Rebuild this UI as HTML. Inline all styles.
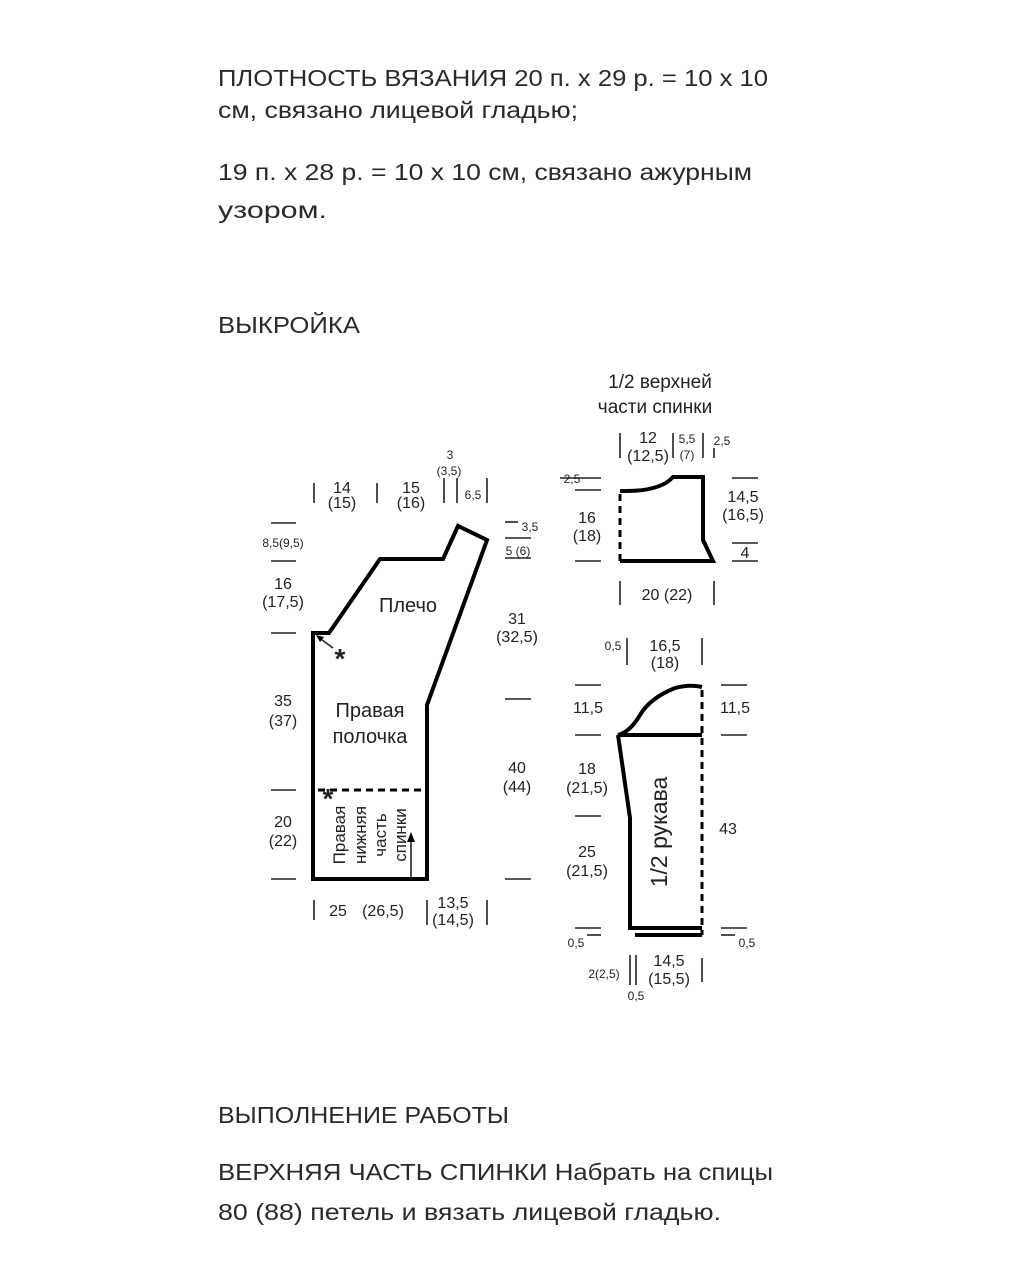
<!DOCTYPE html>
<html><head><meta charset="utf-8"><style>
html,body{margin:0;padding:0;background:#fff;}
svg{display:block}
.t{font-family:"Liberation Sans",sans-serif;font-size:23px;fill:#2a2a2a}
.d{font-family:"Liberation Sans Narrow","Liberation Sans",sans-serif;font-size:16px;fill:#222;text-anchor:middle}
.s{font-family:"Liberation Sans Narrow","Liberation Sans",sans-serif;font-size:12px;fill:#222;text-anchor:middle}
.l{font-family:"Liberation Sans Narrow","Liberation Sans",sans-serif;font-size:20px;fill:#222;text-anchor:middle}
</style></head><body>
<svg width="1024" height="1280" viewBox="0 0 1024 1280" xmlns="http://www.w3.org/2000/svg">
<text class="t" x="218" y="86" textLength="550" lengthAdjust="spacingAndGlyphs">ПЛОТНОСТЬ ВЯЗАНИЯ 20 п. х 29 р. = 10 х 10</text>
<text class="t" x="218" y="118" textLength="360" lengthAdjust="spacingAndGlyphs">см, связано лицевой гладью;</text>
<text class="t" x="218" y="180" textLength="534" lengthAdjust="spacingAndGlyphs">19 п. х 28 р. = 10 х 10 см, связано ажурным</text>
<text class="t" x="218" y="218" textLength="109" lengthAdjust="spacingAndGlyphs">узором.</text>
<text class="t" x="218" y="333" textLength="142" lengthAdjust="spacingAndGlyphs">ВЫКРОЙКА</text>
<text class="t" x="218" y="1123" textLength="291" lengthAdjust="spacingAndGlyphs">ВЫПОЛНЕНИЕ РАБОТЫ</text>
<text class="t" x="218" y="1180" textLength="555" lengthAdjust="spacingAndGlyphs">ВЕРХНЯЯ ЧАСТЬ СПИНКИ Набрать на спицы</text>
<text class="t" x="218" y="1220" textLength="503" lengthAdjust="spacingAndGlyphs">80 (88) петель и вязать лицевой гладью.</text>

<g stroke="#000" fill="none" stroke-width="4" stroke-linejoin="miter">
<polygon points="313,879 427,879 427,705 487,540 458,526 443,559 380,559 329,633 313,633"/>
<path d="M620,561 L713,561 L703,540 L703,477 L673,477 Q660,492 620,491"/>
<path d="M702,687 Q690,684 675,688 Q650,698 640,715 Q630,732 618,735 L702,735"/>
<path d="M618,735 L630,818 L630,928 L702,928"/>
<path d="M635,935 L702,935"/>
</g>
<g stroke="#000" fill="none" stroke-width="3" stroke-dasharray="7,5">
<line x1="318" y1="790" x2="427" y2="790"/>
<line x1="620" y1="494" x2="620" y2="561"/>
<line x1="702" y1="690" x2="702" y2="935"/>
</g>
<g stroke="#222" stroke-width="1.6">
<line x1="271" y1="523" x2="296" y2="523"/><line x1="271" y1="561" x2="296" y2="561"/>
<line x1="271" y1="633" x2="296" y2="633"/><line x1="271" y1="790" x2="296" y2="790"/><line x1="271" y1="879" x2="296" y2="879"/>
<line x1="505" y1="522" x2="518" y2="522"/><line x1="505" y1="538" x2="531" y2="538"/><line x1="505" y1="558" x2="531" y2="558"/>
<line x1="505" y1="699" x2="531" y2="699"/><line x1="505" y1="879" x2="531" y2="879"/>
<line x1="314" y1="483" x2="314" y2="503"/><line x1="377" y1="483" x2="377" y2="503"/><line x1="444" y1="478" x2="444" y2="503"/><line x1="457" y1="478" x2="457" y2="503"/><line x1="487" y1="478" x2="487" y2="503"/>
<line x1="314" y1="900" x2="314" y2="920"/><line x1="427" y1="900" x2="427" y2="925"/><line x1="487" y1="900" x2="487" y2="925"/>
<line x1="560" y1="478" x2="601" y2="478"/><line x1="575" y1="490" x2="601" y2="490"/><line x1="575" y1="561" x2="601" y2="561"/>
<line x1="732" y1="478" x2="758" y2="478"/><line x1="732" y1="543" x2="758" y2="543"/><line x1="732" y1="561" x2="758" y2="561"/>
<line x1="620" y1="433" x2="620" y2="458"/><line x1="673" y1="433" x2="673" y2="458"/><line x1="703" y1="433" x2="703" y2="458"/><line x1="714" y1="448" x2="714" y2="458"/>
<line x1="620" y1="581" x2="620" y2="605"/><line x1="714" y1="581" x2="714" y2="605"/>
<line x1="627" y1="638" x2="627" y2="665"/><line x1="702" y1="638" x2="702" y2="665"/>
<line x1="575" y1="685" x2="601" y2="685"/><line x1="575" y1="735" x2="601" y2="735"/><line x1="575" y1="816" x2="601" y2="816"/><line x1="575" y1="928" x2="601" y2="928"/><line x1="587" y1="935" x2="601" y2="935"/>
<line x1="721" y1="685" x2="747" y2="685"/><line x1="721" y1="735" x2="747" y2="735"/><line x1="721" y1="928" x2="747" y2="928"/><line x1="721" y1="935" x2="735" y2="935"/>
<line x1="630" y1="955" x2="630" y2="985"/><line x1="636" y1="955" x2="636" y2="985"/><line x1="702" y1="958" x2="702" y2="982"/>
<line x1="411" y1="879" x2="411" y2="835"/>
<line x1="333" y1="648" x2="318" y2="637"/>
</g>
<polygon points="411,832 407,842 415,842" fill="#000"/>
<polygon points="316,635 324,637 320,642" fill="#000"/>
<text class="d" x="342" y="493">14</text><text class="d" x="342" y="508">(15)</text>
<text class="d" x="411" y="493">15</text><text class="d" x="411" y="508">(16)</text>
<text class="s" x="450" y="459">3</text><text class="s" x="449" y="475">(3,5)</text>
<text class="s" x="473" y="499">6,5</text>
<text class="s" x="283" y="547">8,5(9,5)</text>
<text class="s" x="530" y="531">3,5</text><text class="s" x="518" y="555">5 (6)</text>
<text class="d" x="283" y="589">16</text><text class="d" x="283" y="607">(17,5)</text>
<text class="l" x="408" y="612">Плечо</text>
<text class="d" x="517" y="624">31</text><text class="d" x="517" y="642">(32,5)</text>
<text class="d" x="283" y="706">35</text><text class="d" x="283" y="726">(37)</text>
<text class="l" x="370" y="717">Правая</text><text class="l" x="370" y="743">полочка</text>
<text class="d" x="517" y="773">40</text><text class="d" x="517" y="792">(44)</text>
<text class="d" x="283" y="827">20</text><text class="d" x="283" y="846">(22)</text>
<text class="l" x="340" y="668" style="font-size:28px;font-weight:bold">*</text>
<text class="l" x="328" y="808" style="font-size:28px;font-weight:bold">*</text>
<g class="d" style="font-size:17px">
<text transform="translate(345,835) rotate(-90)" x="0" y="0">Правая</text>
<text transform="translate(366,835) rotate(-90)" x="0" y="0">нижняя</text>
<text transform="translate(386,835) rotate(-90)" x="0" y="0">часть</text>
<text transform="translate(406,835) rotate(-90)" x="0" y="0">спинки</text>
</g>
<text class="d" x="338" y="916">25</text><text class="d" x="383" y="916">(26,5)</text>
<text class="d" x="453" y="908">13,5</text><text class="d" x="453" y="925">(14,5)</text>
<text class="l" x="660" y="388" style="font-size:19px">1/2 верхней</text>
<text class="l" x="655" y="413" style="font-size:19px">части спинки</text>
<text class="d" x="648" y="443">12</text><text class="d" x="648" y="461">(12,5)</text>
<text class="s" x="687" y="443">5,5</text><text class="s" x="687" y="459">(7)</text>
<text class="s" x="722" y="445">2,5</text>
<text class="s" x="572" y="483">2,5</text>
<text class="d" x="587" y="523">16</text><text class="d" x="587" y="541">(18)</text>
<text class="d" x="743" y="502">14,5</text><text class="d" x="743" y="520">(16,5)</text>
<text class="d" x="745" y="558">4</text>
<text class="d" x="667" y="600">20 (22)</text>
<text class="s" x="613" y="650">0,5</text>
<text class="d" x="665" y="651">16,5</text><text class="d" x="665" y="668">(18)</text>
<text class="d" x="588" y="713">11,5</text><text class="d" x="735" y="713">11,5</text>
<text class="d" x="587" y="774">18</text><text class="d" x="587" y="793">(21,5)</text>
<text class="d" x="587" y="857">25</text><text class="d" x="587" y="876">(21,5)</text>
<text class="d" x="728" y="834">43</text>
<text class="l" transform="translate(667,832) rotate(-90)" x="0" y="0" style="font-size:23px">1/2 рукава</text>
<text class="s" x="576" y="947">0,5</text><text class="s" x="747" y="947">0,5</text>
<text class="s" x="604" y="978">2(2,5)</text>
<text class="d" x="669" y="966">14,5</text><text class="d" x="669" y="984">(15,5)</text>
<text class="s" x="636" y="1000">0,5</text>
</svg>
</body></html>
